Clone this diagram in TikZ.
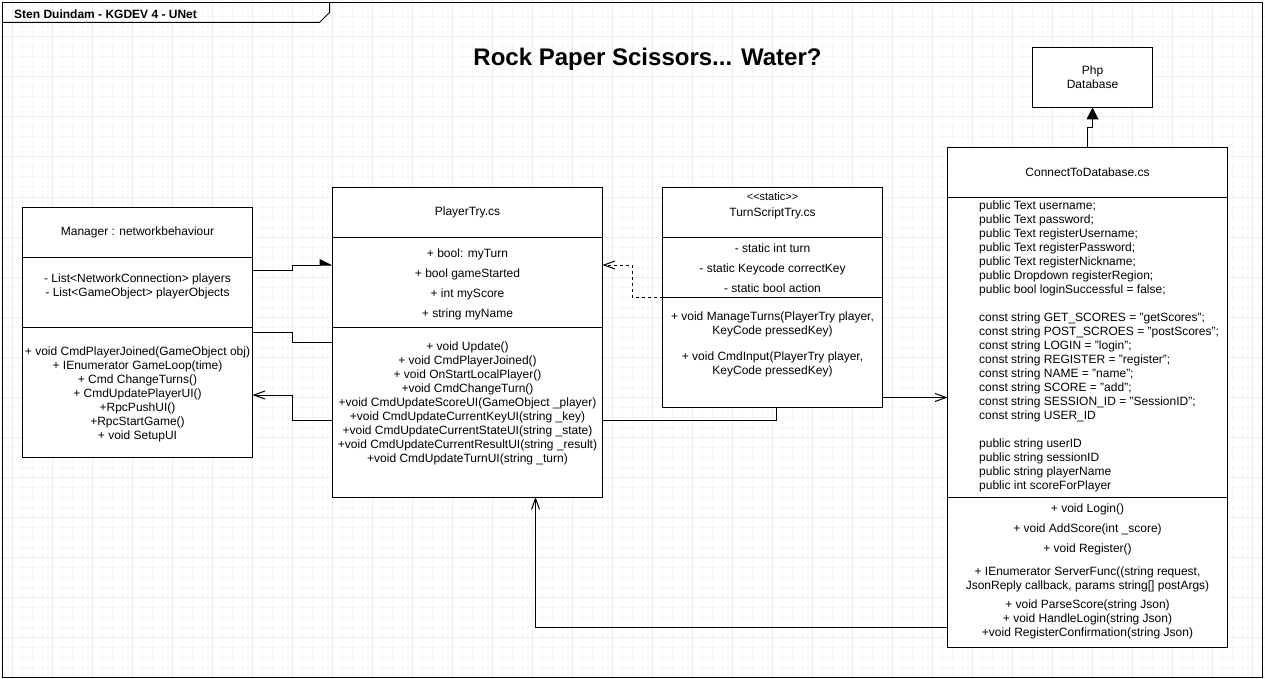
\documentclass[tikz,border=0pt]{standalone}
\usepackage{fontspec}
\setmainfont{Liberation Sans}
\usetikzlibrary{positioning,arrows.meta}
\begin{document}
\begin{tikzpicture}[x=1pt,y=-1pt,
        box/.style={draw,line width=1pt,fill=white,outer sep=0pt,inner sep=0pt,font=\fontsize{12}{14}\selectfont},
        txt/.style={font=\fontsize{12}{14}\selectfont,align=center,inner sep=0pt},
        link/.style={line width=1pt},
        open/.style={-{Straight Barb[length=11pt,width=8pt,line width=1pt]}}]
        \useasboundingbox (0,0) rectangle (1265,679);
        % grid
        \foreach \x in {2.5,12.5,...,1262.5} \draw[gray!6,line width=1pt] (\x,0) -- (\x,679);
        \foreach \y in {7,17,...,677} \draw[gray!6,line width=1pt] (0,\y) -- (1265,\y);
        \foreach \x in {12.5,52.5,...,1252.5} \draw[gray!13,line width=1pt] (\x,0) -- (\x,679);
        \foreach \y in {37,77,...,677} \draw[gray!13,line width=1pt] (0,\y) -- (1265,\y);
        % frame
        \draw[line width=1pt] (2.5,2.5) rectangle (1262.5,677.5);
        \draw[line width=1pt] (2.5,22.5) -- (319.5,22.5) -- (329.5,12.5) -- (329.5,2.5);
        \node[txt,font=\fontsize{12}{14}\selectfont\bfseries,anchor=base west] (frm) at (14,18.3) {Sten Duindam - KGDEV 4 - UNet};
        \node[txt,font=\fontsize{24}{28}\selectfont\bfseries,anchor=base] (title) at (647.5,66) {Rock Paper Scissors... Water?};
        % Manager
        \node[box,anchor=north west,minimum width=230pt,minimum height=50pt] (mgrH) at (22.5,207.5) {Manager : networkbehaviour};
        \node[box,minimum width=230pt,minimum height=70pt,below=0pt of mgrH] (mgrA) {};
        \node[box,minimum width=230pt,minimum height=130pt,below=0pt of mgrA] (mgrO) {};
        \node[txt,below=15.9pt of mgrA.north] (mgrAt) {- List<NetworkConnection> players\\- List<GameObject> playerObjects};
        \node[txt,below=19.2pt of mgrO.north] (mgrOt) {+ void CmdPlayerJoined(GameObject obj)\\+ IEnumerator GameLoop(time)\\+ Cmd ChangeTurns()\\+ CmdUpdatePlayerUI()\\+RpcPushUI()\\+RpcStartGame()\\+ void SetupUI};
        % PlayerTry
        \node[box,anchor=north west,minimum width=270pt,minimum height=50pt] (ptH) at (332.5,187.5) {PlayerTry.cs};
        \node[box,minimum width=270pt,minimum height=90pt,below=0pt of ptH] (ptA) {};
        \node[box,minimum width=270pt,minimum height=169.5pt,below=0pt of ptA] (ptO) {};
        \node[txt,below=10.9pt of ptA.north] (ptAt) {+ bool: myTurn\\[6pt]+ bool gameStarted\\[6pt]+ int myScore\\[6pt]+ string myName};
        \node[txt,below=13.9pt of ptO.north] (ptOt) {+ void Update()\\+ void CmdPlayerJoined()\\+ void OnStartLocalPlayer()\\+void CmdChangeTurn()\\+void CmdUpdateScoreUI(GameObject \_player)\\+void CmdUpdateCurrentKeyUI(string \_key)\\+void CmdUpdateCurrentStateUI(string \_state)\\+void CmdUpdateCurrentResultUI(string \_result)\\+void CmdUpdateTurnUI(string \_turn)};
        % TurnScriptTry
        \node[box,anchor=north west,minimum width=220pt,minimum height=50pt] (tsH) at (662.5,187.5) {};
        \node[box,minimum width=220pt,minimum height=60pt,below=0pt of tsH] (tsA) {};
        \node[box,minimum width=220pt,minimum height=110pt,below=0pt of tsA] (tsO) {};
        \node[txt,below=4.5pt of tsH.north] (tsHt) {{\fontsize{11}{13}\selectfont <\kern0pt<static>\kern0pt>}\\[2.2pt]TurnScriptTry.cs};
        \node[txt,below=5.9pt of tsA.north] (tsAt) {- static int turn\\[6pt]- static Keycode correctKey\\[6pt]- static bool action};
        \node[txt,below=14.2pt of tsO.north] (tsOt) {+ void ManageTurns(PlayerTry player,\\KeyCode pressedKey)\\[11.7pt]+ void CmdInput(PlayerTry player,\\KeyCode pressedKey)};
        % ConnectToDatabase
        \node[box,anchor=north west,minimum width=280pt,minimum height=50pt] (dbH) at (947.5,147.5) {ConnectToDatabase.cs};
        \node[box,minimum width=280pt,minimum height=300pt,below=0pt of dbH] (dbA) {};
        \node[box,minimum width=280pt,minimum height=150pt,below=0pt of dbA] (dbO) {};
        \node[txt,align=left,below right=3.2pt and 31.5pt of dbA.north west] (dbAt) {public Text username;\\public Text password;\\public Text registerUsername;\\public Text registerPassword;\\public Text registerNickname;\\public Dropdown registerRegion;\\public bool loginSuccessful = false;\\[14pt]const string GET\_SCORES = "getScores";\\const string POST\_SCROES = "postScores";\\const string LOGIN = "login";\\const string REGISTER = "register";\\const string NAME = "name";\\const string SCORE = "add";\\const string SESSION\_ID = "SessionID";\\const string USER\_ID\\[14pt]public string userID\\public string sessionID\\public string playerName\\public int scoreForPlayer};
        \node[txt,below=5.9pt of dbO.north] (dbOt) {+ void Login()\\[6pt]+ void AddScore(int \_score)\\[6pt]+ void Register()\\[9pt]+ IEnumerator ServerFunc((string request,\\JsonReply callback, params string[] postArgs)\\[5pt]+ void ParseScore(string Json)\\+ void HandleLogin(string Json)\\+void RegisterConfirmation(string Json)};
        % Php
        \node[box,anchor=north west,minimum width=120pt,minimum height=60pt,align=center] (php) at (1032.5,47.5) {Php\\Database};
        % connectors
        \draw[link,-{Triangle[left,length=12pt,width=12pt]}] ([yshift=-12.5pt]mgrA.north east) -- ++(40,0) |- ([yshift=-27.5pt]ptA.north west);
        \draw[link] ([yshift=-5pt]mgrO.north east) -- ++(40,0) |- ([yshift=-15pt]ptO.north west);
        \draw[link,open] ([yshift=-92.5pt]ptO.north west) -- ++(-40,0) |- ([yshift=-67.5pt]mgrO.north east);
        \draw[link,open,dash pattern=on 3pt off 3pt] (tsO.north west) -- ++(-30,0) |- ([yshift=-27.5pt]ptA.north east);
        \draw[link] ([yshift=-92.5pt]ptO.north east) -| ([xshift=3.5pt]tsO.south);
        \draw[link,open] ([yshift=-100pt]tsO.north east) -- ([yshift=-200pt]dbA.north west);
        \draw[link,open] ([yshift=-129.5pt]dbO.north west) -| ([xshift=68pt]ptO.south);
        \draw[link,-{Triangle[length=12pt,width=12pt]}] (dbH.north) -- ++(0,-20) -| (php.south);
    \end{tikzpicture}
\end{document}
